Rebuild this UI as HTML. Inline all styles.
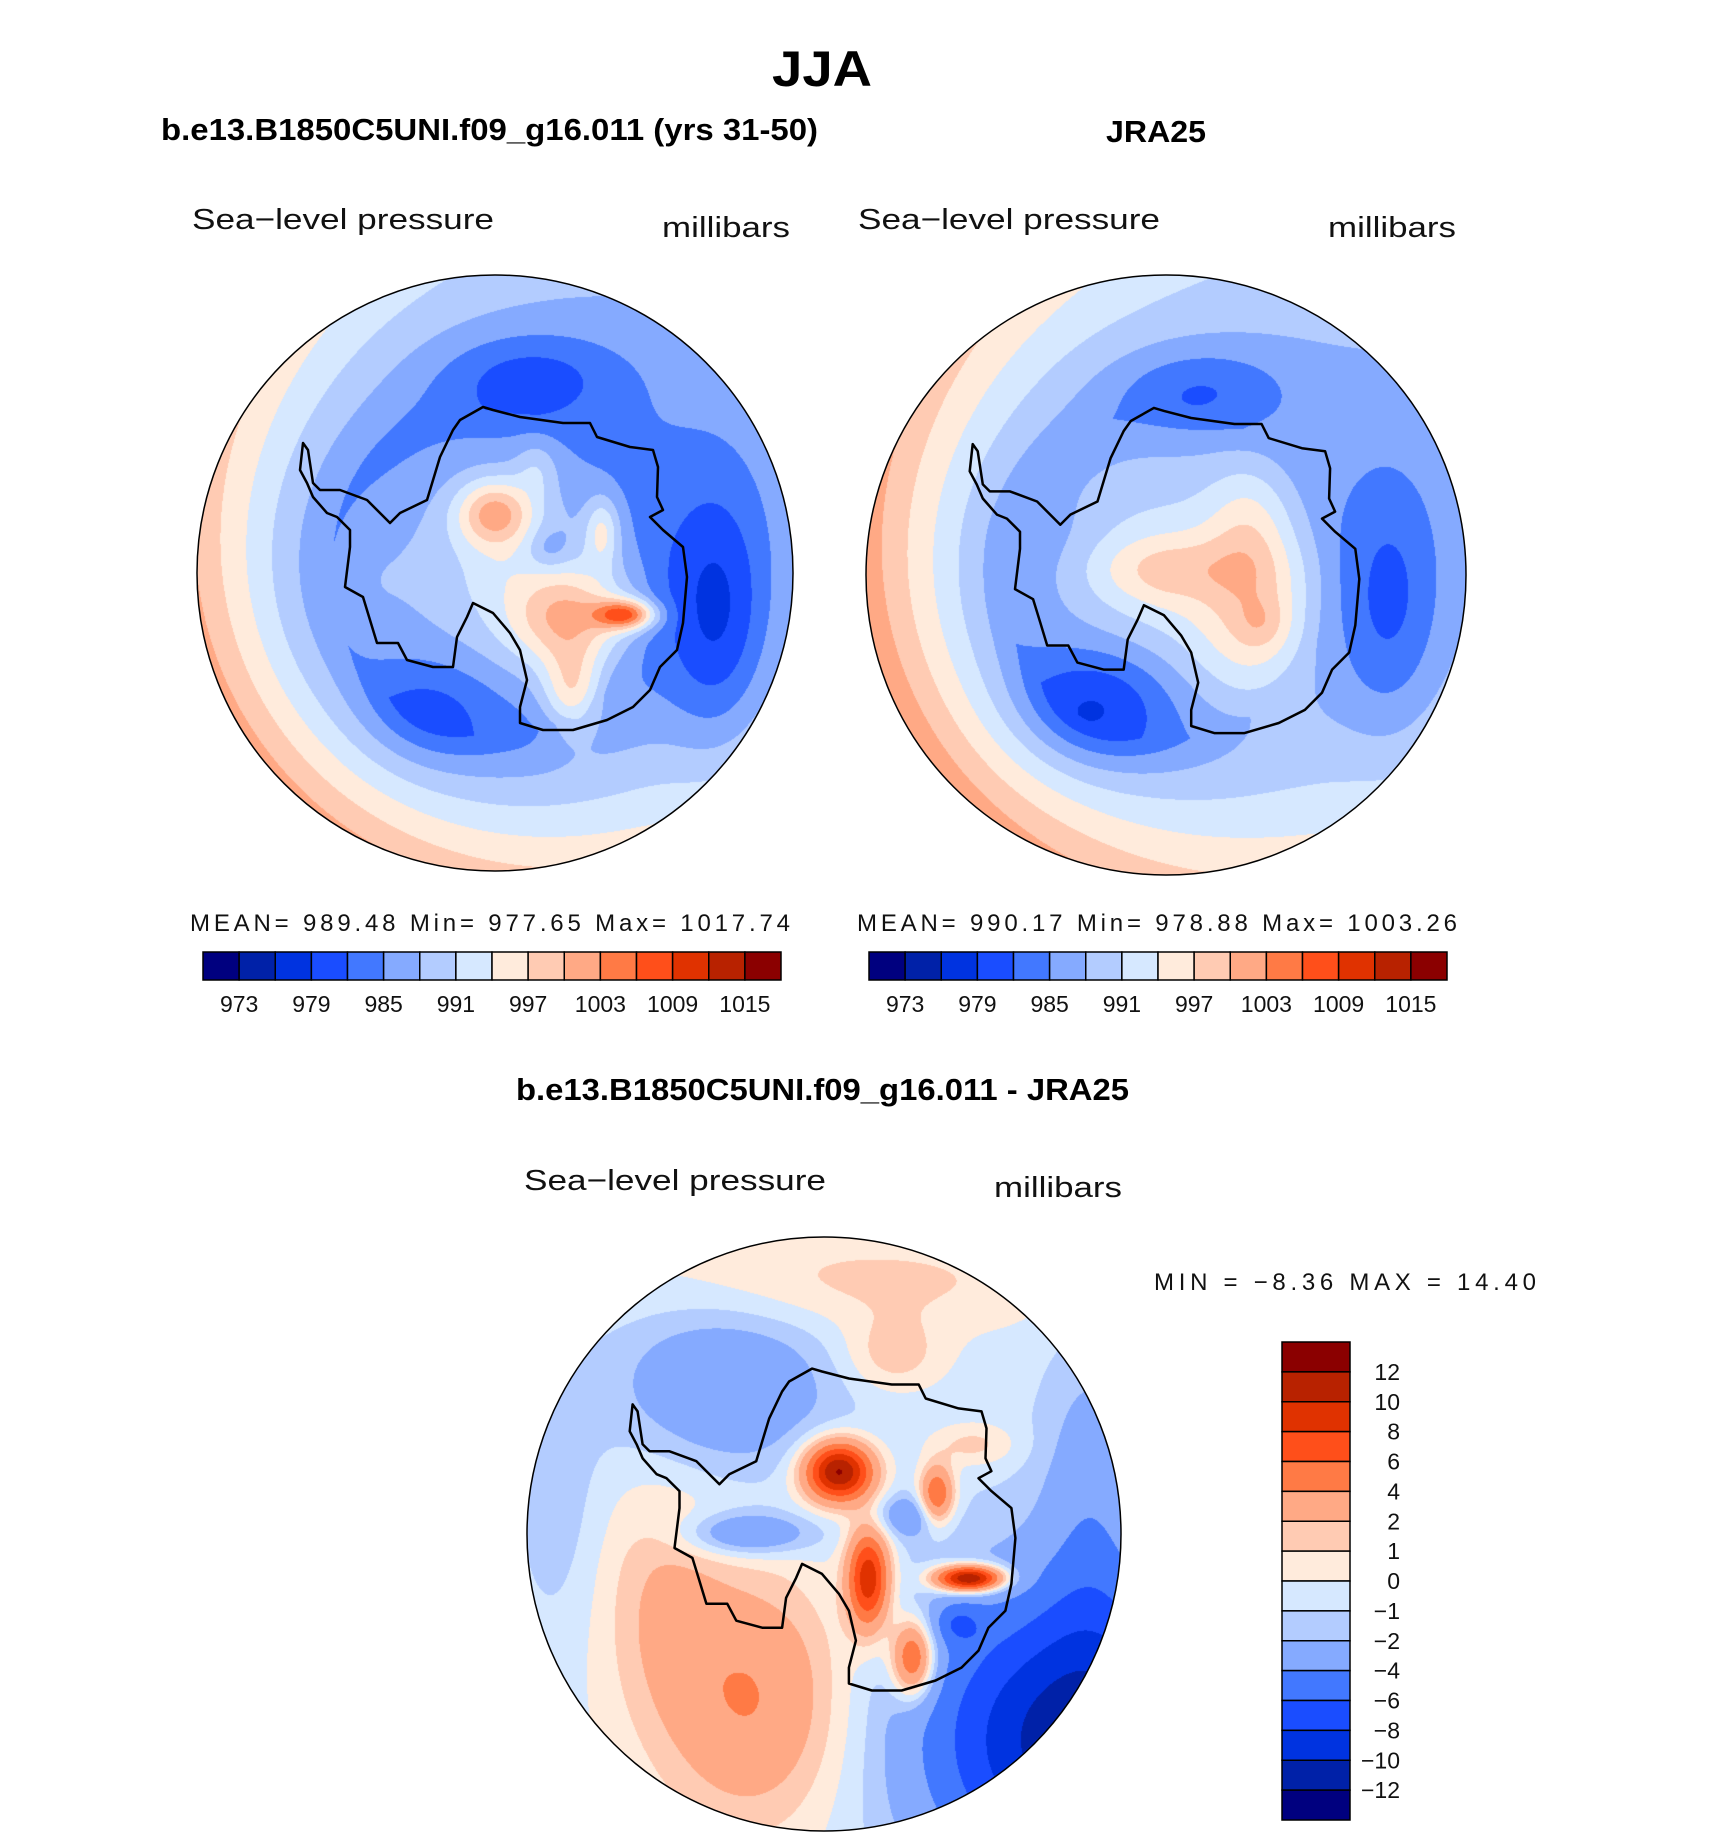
<!DOCTYPE html>
<html><head><meta charset="utf-8"><style>
body{margin:0;background:#fff;width:1710px;height:1839px;position:relative;overflow:hidden}
canvas{position:absolute}
svg{position:absolute;left:0;top:0}
text{font-family:"Liberation Sans",sans-serif}
</style></head><body>
<canvas id="m1" style="left:197px;top:275px" width="596" height="596"></canvas>
<canvas id="m2" style="left:866px;top:275px" width="600" height="600"></canvas>
<canvas id="m3" style="left:527px;top:1237px" width="594" height="594"></canvas>
<svg id="ov" width="1710" height="1839">
<text x="822" y="86" font-size="50" font-weight="bold" text-anchor="middle" textLength="100" lengthAdjust="spacingAndGlyphs">JJA</text>
<text x="161" y="140" font-size="31" font-weight="bold" textLength="657" lengthAdjust="spacingAndGlyphs">b.e13.B1850C5UNI.f09_g16.011 (yrs 31-50)</text>
<text x="1106" y="142" font-size="31" font-weight="bold" textLength="100" lengthAdjust="spacingAndGlyphs">JRA25</text>
<text x="516" y="1100" font-size="31" font-weight="bold" textLength="613" lengthAdjust="spacingAndGlyphs">b.e13.B1850C5UNI.f09_g16.011 - JRA25</text>
<g font-size="29" fill="#111">
<text x="192" y="229" textLength="302" lengthAdjust="spacingAndGlyphs">Sea−level pressure</text>
<text x="662" y="237" textLength="128" lengthAdjust="spacingAndGlyphs">millibars</text>
<text x="858" y="229" textLength="302" lengthAdjust="spacingAndGlyphs">Sea−level pressure</text>
<text x="1328" y="237" textLength="128" lengthAdjust="spacingAndGlyphs">millibars</text>
<text x="524" y="1190" textLength="302" lengthAdjust="spacingAndGlyphs">Sea−level pressure</text>
<text x="994" y="1197" textLength="128" lengthAdjust="spacingAndGlyphs">millibars</text>
</g>
<g font-size="24" fill="#111">
<text x="190" y="931" textLength="600" lengthAdjust="spacing">MEAN=  989.48   Min=  977.65   Max=  1017.74</text>
<text x="857" y="931" textLength="600" lengthAdjust="spacing">MEAN=  990.17   Min=  978.88   Max=  1003.26</text>
<text x="1154" y="1290" textLength="382" lengthAdjust="spacing">MIN =   −8.36  MAX =   14.40</text>
</g>
<g id="bars"></g>
</svg>
<script>
const absColors=["#00007f","#0021a8","#0033e0","#1a4dff","#4278ff","#85aaff","#b3ccff","#d6e8ff","#ffebdc","#ffcbb3","#ffa985","#ff7a45","#ff4f1a","#e03200","#b82200","#8b0000"];
const absLevels=[973,976,979,982,985,988,991,994,997,1000,1003,1006,1009,1012,1015];
const absTicks=["973","979","985","991","997","1003","1009","1015"];
const diffLevels=[-12,-10,-8,-6,-4,-2,-1,0,1,2,4,6,8,10,12];
const diffTicks=["12","10","8","6","4","2","1","0","−1","−2","−4","−6","−8","−10","−12"];
// radial profiles: [center, trough, rim-mean, rim cos amp, rim sin amp]
const modelProfile=[992,984,994,-6,4];
const jraProfile=[994,986,995,-7,3];
const diffProfile=[-0.6,-0.6,-0.4,0,0];
// blobs: [u, v, amplitude, sigmaU, sigmaV]
const modelBlobs=[[0.12,-0.66,-5,0.2,0.1],[0.75,0.15,-8,0.12,0.3],[-0.2,0.45,-4,0.15,0.12],[-0.45,0.05,2,0.1,0.2],
 [0.0,-0.2,13,0.09,0.08],[0.25,0.15,13,0.14,0.12],[0.44,0.14,18,0.07,0.035],[0.26,0.4,10,0.07,0.1],[0.36,-0.14,8,0.04,0.08],[0.14,-0.35,4,0.05,0.07],[0.18,-0.08,-4,0.05,0.05]];
const jraBlobs=[[0.12,-0.62,-5,0.2,0.1],[0.75,0.1,-6,0.12,0.3],[-0.22,0.42,-8,0.18,0.14],[0.3,0.15,8,0.14,0.2],[0.0,-0.02,5,0.22,0.08],[0.28,-0.18,5,0.1,0.15],[0.32,0.16,3,0.06,0.06],[-0.35,-0.05,-2,0.12,0.12]];
const diffBlobs=[[-0.34,-0.5,-3.2,0.26,0.2],[0.23,-0.6,2.2,0.12,0.09],[0.1,-0.85,1.8,0.5,0.12],[-0.24,0.55,4.6,0.22,0.3],[-0.55,0.2,2.2,0.15,0.3],[0.85,0.7,-11,0.35,0.35],[0.9,-0.1,-2.5,0.12,0.4],[-0.9,-0.1,-1.2,0.1,0.3],
 [0.05,-0.21,13,0.08,0.07],[0.15,0.15,10,0.05,0.12],[0.3,0.42,8,0.05,0.09],[0.49,0.15,14,0.08,0.03],[0.38,-0.13,7,0.04,0.07],[-0.26,0,-4,0.15,0.05],[0.28,-0.06,-3,0.08,0.05],[0.5,-0.3,2,0.1,0.05],[0.45,0.3,-3,0.06,0.05]];
// coastline traced on the left map (center 495,573, radius 298)
const coast=[[460,420],[483,407],[493,410],[520,417],[563,423],[590,423],[597,437],[630,447],[653,450],[658,467],[657,497],[663,510],[650,517],[663,530],[683,547],[687,577],[683,623],[677,650],[660,667],[650,690],[633,707],[607,720],[573,730],[543,730],[520,723],[520,707],[527,680],[520,650],[510,633],[493,613],[473,603],[467,617],[457,637],[453,667],[433,667],[407,660],[398,643],[377,643],[370,620],[363,597],[345,587],[350,547],[350,530],[337,517],[327,513],[313,497],[307,483],[300,470],[303,443],[308,450],[313,483],[320,490],[340,490],[367,500],[390,523],[400,513],[427,500],[440,457],[453,430]];
function field(u,v,p,bl){
  const r=Math.sqrt(u*u+v*v),th=Math.atan2(v,u);
  const rim=p[2]+p[3]*Math.cos(th)+p[4]*Math.sin(th);
  let f=r<0.55? p[0]+(p[1]-p[0])*(r/0.55) : p[1]+(rim-p[1])*((r-0.55)/0.45);
  for(const b of bl){const du=(u-b[0])/b[3],dv=(v-b[1])/b[4];f+=b[2]*Math.exp(-0.5*(du*du+dv*dv));}
  return f;
}
function hex(h){return [parseInt(h.substr(1,2),16),parseInt(h.substr(3,2),16),parseInt(h.substr(5,2),16)];}
function draw(id,p,bl,levels){
  const c=document.getElementById(id),ctx=c.getContext('2d'),W=c.width,R=W/2;
  const img=ctx.createImageData(W,W),cols=absColors.map(hex);
  for(let y=0;y<W;y++)for(let x=0;x<W;x++){
    const u=(x+0.5-R)/R,v=(y+0.5-R)/R;if(u*u+v*v>1)continue;
    const f=field(u,v,p,bl);let k=0;while(k<levels.length&&f>=levels[k])k++;
    const col=cols[k],i=(y*W+x)*4;img.data[i]=col[0];img.data[i+1]=col[1];img.data[i+2]=col[2];img.data[i+3]=255;}
  ctx.putImageData(img,0,0);
}
draw('m1',modelProfile,modelBlobs,absLevels);
draw('m2',jraProfile,jraBlobs,absLevels);
draw('m3',diffProfile,diffBlobs,diffLevels);
const NS="http://www.w3.org/2000/svg",ov=document.getElementById('ov'),bars=document.getElementById('bars');
function el(t,a,parent){const e=document.createElementNS(NS,t);for(const k in a)e.setAttribute(k,a[k]);(parent||bars).appendChild(e);return e;}
[[495,573,298,'model'],[1166,575,300,'jra25'],[824,1534,297,'difference']].forEach(m=>{
  const pts=coast.map(q=>[(m[0]+(q[0]-495)/298*m[2]).toFixed(1),(m[1]+(q[1]-573)/298*m[2]).toFixed(1)].join(',')).join(' ');
  const cl=el('polygon',{points:pts,fill:'none',stroke:'#000','stroke-width':2.5,'stroke-linejoin':'round'});
  
  
  const ci=el('circle',{cx:m[0],cy:m[1],r:m[2],fill:'none',stroke:'#000','stroke-width':1.5});
  
  
});
[[203,'left'],[869,'right']].forEach(b=>{
  const x0=b[0],w=(578)/16;
  absColors.forEach((c,i)=>{const r=el('rect',{x:x0+i*w,y:952,width:w,height:28,fill:c,stroke:'#000','stroke-width':1.5});
    
    });
  absTicks.forEach((t,j)=>{const tx=el('text',{x:x0+(2*j+1)*w,y:1012,'font-size':23,'text-anchor':'middle',fill:'#111'});tx.textContent=t;
    
    });
});
const vy0=1342,vh=(1820-1342)/16;
absColors.slice().reverse().forEach((c,i)=>{const r=el('rect',{x:1282,y:vy0+i*vh,width:68,height:vh,fill:c,stroke:'#000','stroke-width':1.5});
  
  });
diffTicks.forEach((t,j)=>{const tx=el('text',{x:1400,y:vy0+(j+1)*vh+8,'font-size':23,'text-anchor':'end',fill:'#111'});tx.textContent=t;
  
  });
</script>
</body></html>
